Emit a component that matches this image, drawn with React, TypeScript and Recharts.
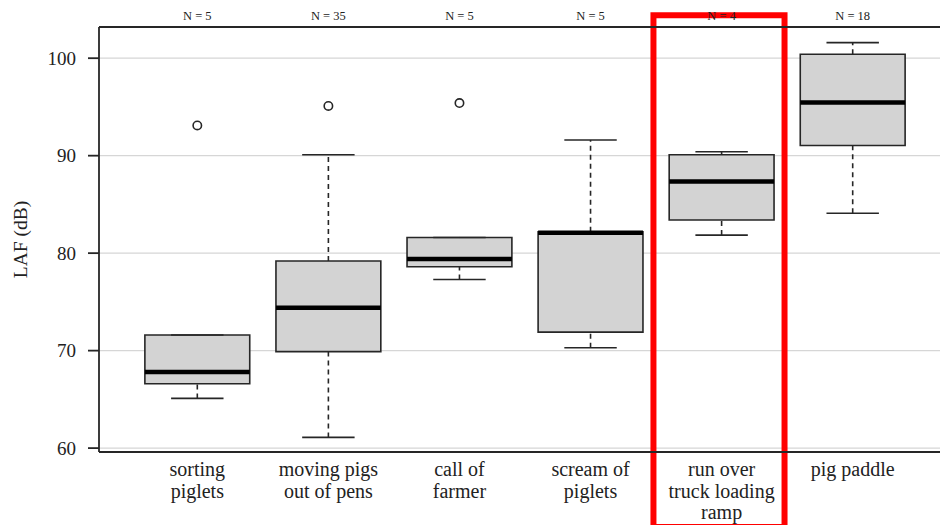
import React from "react";
import {
  ComposedChart,
  XAxis,
  YAxis,
  CartesianGrid,
  ReferenceArea,
  ReferenceLine,
  Scatter,
} from "recharts";

const FONT = '"Liberation Serif", "Times New Roman", serif';

const categoryLines: string[][] = [
  ["sorting", "piglets"],
  ["moving pigs", "out of pens"],
  ["call of", "farmer"],
  ["scream of", "piglets"],
  ["run over", "truck loading", "ramp"],
  ["pig paddle"],
];
const nCounts = [5, 35, 5, 5, 4, 18];
const whiskerLow = [65.1, 61.1, 77.3, 70.3, 81.85, 84.1];
const q1 = [66.6, 69.9, 78.6, 71.9, 83.4, 91.05];
const median = [67.8, 74.4, 79.4, 82.1, 87.35, 95.45];
const q3 = [71.6, 79.2, 81.6, 82.2, 90.1, 100.4];
const whiskerHigh = [71.6, 90.1, 81.6, 91.6, 90.4, 101.6];
const outlierCats = [1, 2, 3];
const outlierValues = [93.1, 95.1, 95.4];
const yTicks = [60, 70, 80, 90, 100];
const highlight = { x1: 4.48, x2: 5.48, y1: 51.9, y2: 104.4 };

const rows = categoryLines.map((_, i) => ({
  cat: i + 1,
  low: whiskerLow[i],
  q1: q1[i],
  median: median[i],
  q3: q3[i],
  high: whiskerHigh[i],
}));
const outlierData = outlierCats.map((c, i) => ({ cat: c, value: outlierValues[i] }));

const BOX_HALF = 0.4;
const CAP_HALF = 0.2;
const DARK = "#262626";

const CategoryTick = (props: any) => {
  const { x, y, payload } = props;
  const lines = categoryLines[Math.round(payload.value) - 1] || [];
  return (
    <g>
      {lines.map((l, i) => (
        <text
          key={i}
          x={x}
          y={y + 24 + i * 21.6}
          textAnchor="middle"
          fontSize={20}
          fill="#222"
          fontFamily={FONT}
        >
          {l}
        </text>
      ))}
    </g>
  );
};

const NTick = (props: any) => {
  const { x, y, payload } = props;
  const n = nCounts[Math.round(payload.value) - 1];
  return (
    <text x={x} y={y - 7} textAnchor="middle" fontSize={12.5} fill="#222" fontFamily={FONT}>
      {`N = ${n}`}
    </text>
  );
};

const YLabel = (props: any) => {
  const vb = props.viewBox || { x: 0, y: 27, width: 99, height: 425 };
  const cx = vb.x + 20;
  const cy = vb.y + vb.height / 2;
  return (
    <text
      x={cx}
      y={cy}
      transform={`rotate(-90, ${cx}, ${cy})`}
      textAnchor="middle"
      dominantBaseline="central"
      fontSize={19.5}
      fill="#222"
      fontFamily={FONT}
    >
      LAF (dB)
    </text>
  );
};

const OutlierShape = (props: any) => {
  const { cx, cy } = props;
  return <circle cx={cx} cy={cy} r={4.2} fill="none" stroke={DARK} strokeWidth={1.6} />;
};

export default function App() {
  return (
    <div
      style={{
        position: "absolute",
        left: 0,
        top: 0,
        width: 940,
        height: 525,
        overflow: "hidden",
        background: "#fff",
      }}
    >
      <ComposedChart
        width={960}
        height={525}
        data={rows}
        margin={{ top: 0, right: 9, bottom: 0, left: 0 }}
      >
        <CartesianGrid
          xAxisId="b"
          horizontal
          vertical={false}
          stroke="#d6d6d6"
          strokeWidth={1.3}
        />
        <XAxis
          xAxisId="t"
          orientation="top"
          type="number"
          dataKey="cat"
          domain={[0.25, 6.75]}
          allowDataOverflow
          ticks={[1, 2, 3, 4, 5, 6]}
          height={27}
          tickLine={false}
          tickSize={0}
          tickMargin={0}
          axisLine={{ stroke: DARK, strokeWidth: 1.8 }}
          tick={<NTick />}
        />
        <XAxis
          xAxisId="b"
          orientation="bottom"
          type="number"
          dataKey="cat"
          domain={[0.25, 6.75]}
          allowDataOverflow
          ticks={[1, 2, 3, 4, 5, 6]}
          height={73}
          tickLine={false}
          tickSize={0}
          tickMargin={0}
          axisLine={{ stroke: DARK, strokeWidth: 1.8 }}
          tick={<CategoryTick />}
        />
        <YAxis
          type="number"
          domain={[59.6, 103.2]}
          allowDataOverflow
          ticks={yTicks}
          width={99}
          tickSize={11}
          tickMargin={12}
          axisLine={{ stroke: DARK, strokeWidth: 1.8 }}
          tickLine={{ stroke: DARK, strokeWidth: 1.8 }}
          tick={{ fill: "#222", fontSize: 19, fontFamily: FONT }}
          label={<YLabel />}
        />

        {rows.map((r) => (
          <ReferenceLine
            key={`wl-${r.cat}`}
            xAxisId="b"
            segment={[
              { x: r.cat, y: r.low },
              { x: r.cat, y: r.q1 },
            ]}
            stroke={DARK}
            strokeWidth={1.6}
            strokeDasharray="5 4"
          />
        ))}
        {rows.map((r) => (
          <ReferenceLine
            key={`wh-${r.cat}`}
            xAxisId="b"
            segment={[
              { x: r.cat, y: r.q3 },
              { x: r.cat, y: r.high },
            ]}
            stroke={DARK}
            strokeWidth={1.6}
            strokeDasharray="5 4"
          />
        ))}
        {rows.map((r) => (
          <ReferenceLine
            key={`cl-${r.cat}`}
            xAxisId="b"
            segment={[
              { x: r.cat - CAP_HALF, y: r.low },
              { x: r.cat + CAP_HALF, y: r.low },
            ]}
            stroke={DARK}
            strokeWidth={1.6}
          />
        ))}
        {rows.map((r) => (
          <ReferenceLine
            key={`ch-${r.cat}`}
            xAxisId="b"
            segment={[
              { x: r.cat - CAP_HALF, y: r.high },
              { x: r.cat + CAP_HALF, y: r.high },
            ]}
            stroke={DARK}
            strokeWidth={1.6}
          />
        ))}
        {rows.map((r) => (
          <ReferenceArea
            key={`box-${r.cat}`}
            xAxisId="b"
            x1={r.cat - BOX_HALF}
            x2={r.cat + BOX_HALF}
            y1={r.q1}
            y2={r.q3}
            fill="#d3d3d3"
            fillOpacity={1}
            stroke={DARK}
            strokeWidth={1.6}
          />
        ))}
        {rows.map((r) => (
          <ReferenceLine
            key={`med-${r.cat}`}
            xAxisId="b"
            segment={[
              { x: r.cat - BOX_HALF, y: r.median },
              { x: r.cat + BOX_HALF, y: r.median },
            ]}
            stroke="#000"
            strokeWidth={4.5}
          />
        ))}
        <Scatter
          xAxisId="b"
          data={outlierData}
          dataKey="value"
          shape={<OutlierShape />}
          isAnimationActive={false}
        />
        <ReferenceArea
          xAxisId="b"
          x1={highlight.x1}
          x2={highlight.x2}
          y1={highlight.y1}
          y2={highlight.y2}
          ifOverflow="visible"
          fill="none"
          stroke="#ff0000"
          strokeWidth={6}
        />
      </ComposedChart>
    </div>
  );
}
